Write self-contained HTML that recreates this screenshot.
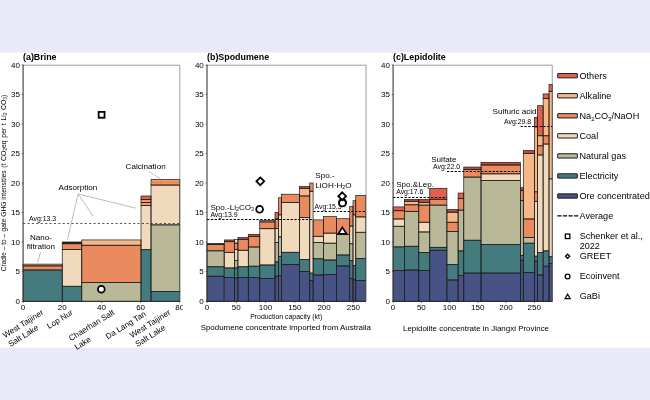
<!DOCTYPE html>
<html lang="en">
<head>
<meta charset="utf-8">
<title>GHG intensities of lithium production</title>
<style>
html,body{margin:0;padding:0;background:#e8eafa;}
body{width:650px;height:400px;overflow:hidden;}
svg{display:block;font-family:"Liberation Sans",Arial,sans-serif;}
text{fill:#000;}
.chart{filter:blur(0.3px);}
.o{fill:none;stroke:#1c1c1c;stroke-width:0.7;}
.th{fill:none;stroke:#5a5a5a;stroke-width:0.6;}
.ax{fill:none;stroke:#3a3a3a;stroke-width:1.1;}
.bx{fill:none;stroke:#222;stroke-width:0.9;}
.tk{fill:none;stroke:#333;stroke-width:0.7;}
.d{fill:none;stroke:#000;stroke-width:1.1;stroke-dasharray:2.3 1.5;}
.da{fill:none;stroke:#2a2a2a;stroke-width:0.8;stroke-dasharray:2.1 2.3;}
.d2{fill:none;stroke:#000;stroke-width:1.25;stroke-dasharray:4.2 1.4;}
.ld{fill:none;stroke:#777;stroke-width:0.5;}
.m{fill:#fff;stroke:#000;}
.sw{stroke:#1c1c22;stroke-width:1;}
.t{font-size:8px;}
.b{font-size:8.9px;font-weight:bold;}
.l{font-size:8.1px;}
.s{font-size:6.9px;}
.u{font-size:7.95px;}
.r{font-size:8.1px;}
.g{font-size:9.1px;}
.yl{font-size:6.9px;}
.sub{font-size:4.6px;}
.sub2{font-size:5.2px;}
.sub3{font-size:6px;}
</style>
</head>
<body>
<svg width="650" height="400" viewBox="0 0 650 400">
<rect x="0" y="0" width="650" height="400" fill="#e8eafa"/>
<rect x="0" y="52.5" width="650" height="295.2" fill="#ffffff"/>
<g class="chart">
<rect x="23.10" y="270.02" width="39.15" height="31.28" fill="#447b7f"/>
<rect x="23.10" y="265.89" width="39.15" height="4.13" fill="#ea8a5f"/>
<rect x="23.10" y="264.12" width="39.15" height="1.77" fill="#f29a68"/>
<rect x="62.25" y="286.25" width="19.50" height="15.05" fill="#447b7f"/>
<rect x="62.25" y="249.38" width="19.50" height="36.88" fill="#f1dabb"/>
<rect x="62.25" y="243.77" width="19.50" height="5.60" fill="#ea8a5f"/>
<rect x="62.25" y="242.00" width="19.50" height="1.77" fill="#1a1a1a"/>
<rect x="81.75" y="282.42" width="59.25" height="18.88" fill="#b9b999"/>
<rect x="81.75" y="245.25" width="59.25" height="37.17" fill="#ea8a5f"/>
<rect x="81.75" y="239.94" width="59.25" height="5.31" fill="#f7b888"/>
<rect x="141.00" y="249.67" width="10.00" height="51.63" fill="#447b7f"/>
<rect x="141.00" y="205.42" width="10.00" height="44.25" fill="#f1dabb"/>
<rect x="141.00" y="202.47" width="10.00" height="2.95" fill="#f29a68"/>
<rect x="141.00" y="199.52" width="10.00" height="2.95" fill="#f29a68"/>
<rect x="141.00" y="195.98" width="10.00" height="3.54" fill="#e0604e"/>
<rect x="151.00" y="291.56" width="28.80" height="9.74" fill="#447b7f"/>
<rect x="151.00" y="224.89" width="28.80" height="66.67" fill="#b9b999"/>
<rect x="151.00" y="185.06" width="28.80" height="39.82" fill="#f1dabb"/>
<rect x="151.00" y="179.46" width="28.80" height="5.61" fill="#f5945f"/>
<rect class="o" x="23.10" y="270.02" width="39.15" height="31.28"/>
<rect class="o" x="23.10" y="265.89" width="39.15" height="4.13"/>
<rect class="o" x="23.10" y="264.12" width="39.15" height="1.77"/>
<rect class="o" x="62.25" y="286.25" width="19.50" height="15.05"/>
<rect class="o" x="62.25" y="249.38" width="19.50" height="36.88"/>
<rect class="o" x="62.25" y="243.77" width="19.50" height="5.60"/>
<rect class="o" x="62.25" y="242.00" width="19.50" height="1.77"/>
<rect class="o" x="81.75" y="282.42" width="59.25" height="18.88"/>
<rect class="o" x="81.75" y="245.25" width="59.25" height="37.17"/>
<rect class="o" x="81.75" y="239.94" width="59.25" height="5.31"/>
<rect class="o" x="141.00" y="249.67" width="10.00" height="51.63"/>
<rect class="o" x="141.00" y="205.42" width="10.00" height="44.25"/>
<rect class="o" x="141.00" y="202.47" width="10.00" height="2.95"/>
<rect class="o" x="141.00" y="199.52" width="10.00" height="2.95"/>
<rect class="o" x="141.00" y="195.98" width="10.00" height="3.54"/>
<rect class="o" x="151.00" y="291.56" width="28.80" height="9.74"/>
<rect class="o" x="151.00" y="224.89" width="28.80" height="66.67"/>
<rect class="o" x="151.00" y="185.06" width="28.80" height="39.82"/>
<rect class="o" x="151.00" y="179.46" width="28.80" height="5.61"/>
<path d="M151.3 182.6 H179.5" stroke="#d8703f" stroke-width="0.5" fill="none"/>
<path class="th" d="M23.10 65.2 H179.80 V301.3"/>
<path class="ax" d="M23.10 64.8 V301.8"/>
<path class="bx" d="M23.10 301.3 H179.80"/>
<path class="tk" d="M21.80 301.30 H23.10"/>
<text class="t" x="19.90" y="304.10" text-anchor="end">0</text>
<path class="tk" d="M21.80 271.50 H23.10"/>
<text class="t" x="19.90" y="274.30" text-anchor="end">5</text>
<path class="tk" d="M21.80 242.00 H23.10"/>
<text class="t" x="19.90" y="244.80" text-anchor="end">10</text>
<path class="tk" d="M21.80 212.50 H23.10"/>
<text class="t" x="19.90" y="215.30" text-anchor="end">15</text>
<path class="tk" d="M21.80 183.00 H23.10"/>
<text class="t" x="19.90" y="185.80" text-anchor="end">20</text>
<path class="tk" d="M21.80 153.50 H23.10"/>
<text class="t" x="19.90" y="156.30" text-anchor="end">25</text>
<path class="tk" d="M21.80 124.00 H23.10"/>
<text class="t" x="19.90" y="126.80" text-anchor="end">30</text>
<path class="tk" d="M21.80 94.50 H23.10"/>
<text class="t" x="19.90" y="97.30" text-anchor="end">35</text>
<path class="tk" d="M21.80 65.00 H23.10"/>
<text class="t" x="19.90" y="67.80" text-anchor="end">40</text>
<path class="tk" d="M23.10 301.3 V302.90000000000003"/>
<text class="t" x="23.10" y="310.40" text-anchor="middle">0</text>
<path class="tk" d="M62.27 301.3 V302.90000000000003"/>
<text class="t" x="62.27" y="310.40" text-anchor="middle">20</text>
<path class="tk" d="M101.45 301.3 V302.90000000000003"/>
<text class="t" x="101.45" y="310.40" text-anchor="middle">40</text>
<path class="tk" d="M140.62 301.3 V302.90000000000003"/>
<text class="t" x="140.62" y="310.40" text-anchor="middle">60</text>
<path class="tk" d="M179.80 301.3 V302.90000000000003"/>
<text class="t" x="179.80" y="310.40" text-anchor="middle">80</text>
<path class="da" d="M23.10 223.50 H179.80"/>
<text class="b" x="23" y="59.8">(a)Brine</text>
<text class="l" x="58.5" y="190">Adsorption</text>
<text class="l" x="125.6" y="169.4">Calcination</text>
<text class="l" x="40.9" y="239.9" text-anchor="middle">Nano-</text>
<text class="l" x="40.9" y="249.2" text-anchor="middle">filtration</text>
<text class="s" x="29" y="220.7">Avg:13.3</text>
<path class="ld" d="M78.1 194 L67.5 239.5 M78.1 194 L93.1 216 M78.1 194 L135.6 208.1 M148.7 171.3 L160.6 178.8 M40.6 251.9 L37.5 262.5"/>
<rect class="m" x="98.67" y="111.88" width="5.85" height="5.85" stroke-width="1.8"/>
<circle class="m" cx="101.30" cy="289.30" r="3.4" stroke-width="1.8"/>
<rect x="182.8" y="302.5" width="8" height="10" fill="#ffffff"/>
<g transform="translate(41.0 309) rotate(-32)">
<text class="r" x="-46.06" y="5.7">West Taijiner</text>
<text class="r" x="-46.06" y="16.1">Salt Lake</text>
</g>
<g transform="translate(70.5 309) rotate(-32)">
<text class="r" x="-28.81" y="5.7">Lop Nur</text>
</g>
<g transform="translate(112.0 309) rotate(-32)">
<text class="r" x="-51.78" y="5.7">Chaerhan Salt</text>
<text class="r" x="-51.78" y="16.1">Lake</text>
</g>
<g transform="translate(143.6 310.4) rotate(-32)">
<text class="r" x="-45.78" y="5.7">Da Lang Tan</text>
</g>
<g transform="translate(168.0 309) rotate(-32)">
<text class="r" x="-46.06" y="5.7">West Taijiner</text>
<text class="r" x="-46.06" y="16.1">Salt Lake</text>
</g>
<text class="yl" style="font-size:6.52px" transform="translate(6.0 271.2) rotate(-90)">Cradle – to –</text>
<text class="yl" style="font-size:6.64px" transform="translate(6.0 231.5) rotate(-90)">gate GHG intensities</text>
<text class="yl" style="word-spacing:0.75px" transform="translate(6.0 167.8) rotate(-90)">(t CO<tspan class="sub" dy="1.2">2</tspan><tspan dy="-1.2">eq per t Li</tspan><tspan class="sub" dy="1.2">2</tspan><tspan dy="-1.2"> CO</tspan><tspan class="sub" dy="1.2">3</tspan><tspan dy="-1.2">)</tspan></text>
<rect x="207.00" y="276.22" width="17.00" height="25.08" fill="#475384"/>
<rect x="207.00" y="266.78" width="17.00" height="9.44" fill="#447b7f"/>
<rect x="207.00" y="250.85" width="17.00" height="15.93" fill="#b9b999"/>
<rect x="207.00" y="244.36" width="17.00" height="6.49" fill="#ea8a5f"/>
<rect x="207.00" y="243.47" width="17.00" height="0.89" fill="#1a1a1a"/>
<rect x="224.60" y="277.40" width="9.80" height="23.90" fill="#475384"/>
<rect x="224.60" y="267.96" width="9.80" height="9.44" fill="#447b7f"/>
<rect x="224.60" y="252.32" width="9.80" height="15.63" fill="#f1dabb"/>
<rect x="224.60" y="241.70" width="9.80" height="10.62" fill="#ea8a5f"/>
<rect x="224.60" y="239.94" width="9.80" height="1.77" fill="#bf4a3c"/>
<rect x="234.40" y="277.99" width="3.50" height="23.31" fill="#475384"/>
<rect x="234.40" y="267.96" width="3.50" height="10.03" fill="#447b7f"/>
<rect x="234.40" y="260.58" width="3.50" height="7.38" fill="#b9b999"/>
<rect x="234.40" y="249.38" width="3.50" height="11.21" fill="#f1dabb"/>
<rect x="234.40" y="243.18" width="3.50" height="6.19" fill="#ea8a5f"/>
<rect x="234.40" y="239.64" width="3.50" height="3.54" fill="#f1dabb"/>
<rect x="237.90" y="277.40" width="10.40" height="23.90" fill="#475384"/>
<rect x="237.90" y="266.78" width="10.40" height="10.62" fill="#447b7f"/>
<rect x="237.90" y="250.26" width="10.40" height="16.52" fill="#f1dabb"/>
<rect x="237.90" y="239.34" width="10.40" height="10.91" fill="#ea8a5f"/>
<rect x="237.90" y="237.57" width="10.40" height="1.77" fill="#bf4a3c"/>
<rect x="248.30" y="277.40" width="11.45" height="23.90" fill="#475384"/>
<rect x="248.30" y="266.19" width="11.45" height="11.21" fill="#447b7f"/>
<rect x="248.30" y="247.01" width="11.45" height="19.18" fill="#b9b999"/>
<rect x="248.30" y="236.39" width="11.45" height="10.62" fill="#ea8a5f"/>
<rect x="248.30" y="234.33" width="11.45" height="2.06" fill="#bf4a3c"/>
<rect x="259.75" y="278.58" width="15.25" height="22.72" fill="#475384"/>
<rect x="259.75" y="265.01" width="15.25" height="13.57" fill="#447b7f"/>
<rect x="259.75" y="228.72" width="15.25" height="36.28" fill="#f1dabb"/>
<rect x="259.75" y="221.94" width="15.25" height="6.78" fill="#ea8a5f"/>
<rect x="259.75" y="220.46" width="15.25" height="1.48" fill="#f7b888"/>
<rect x="275.00" y="276.22" width="3.50" height="25.08" fill="#475384"/>
<rect x="275.00" y="261.88" width="3.50" height="14.34" fill="#447b7f"/>
<rect x="275.00" y="242.59" width="3.50" height="19.29" fill="#b9b999"/>
<rect x="275.00" y="228.43" width="3.50" height="14.16" fill="#f1dabb"/>
<rect x="275.00" y="218.99" width="3.50" height="9.44" fill="#ea8a5f"/>
<rect x="275.00" y="212.50" width="3.50" height="6.49" fill="#e0604e"/>
<rect x="278.50" y="275.63" width="3.00" height="25.67" fill="#475384"/>
<rect x="278.50" y="256.28" width="3.00" height="19.35" fill="#447b7f"/>
<rect x="278.50" y="236.87" width="3.00" height="19.41" fill="#b9b999"/>
<rect x="278.50" y="214.86" width="3.00" height="22.01" fill="#f1dabb"/>
<rect x="278.50" y="197.75" width="3.00" height="17.11" fill="#ea8a5f"/>
<rect x="281.50" y="264.42" width="17.90" height="36.88" fill="#475384"/>
<rect x="281.50" y="252.27" width="17.90" height="12.15" fill="#447b7f"/>
<rect x="281.50" y="202.47" width="17.90" height="49.80" fill="#f1dabb"/>
<rect x="281.50" y="194.21" width="17.90" height="8.26" fill="#ea8a5f"/>
<rect x="299.40" y="271.50" width="10.35" height="29.80" fill="#475384"/>
<rect x="299.40" y="259.40" width="10.35" height="12.10" fill="#447b7f"/>
<rect x="299.40" y="217.51" width="10.35" height="41.89" fill="#f1dabb"/>
<rect x="299.40" y="195.98" width="10.35" height="21.53" fill="#ea8a5f"/>
<rect x="299.40" y="188.31" width="10.35" height="7.67" fill="#f7b888"/>
<rect x="299.40" y="186.54" width="10.35" height="1.77" fill="#bf4a3c"/>
<rect x="309.75" y="280.35" width="3.35" height="20.95" fill="#475384"/>
<rect x="309.75" y="273.09" width="3.35" height="7.26" fill="#447b7f"/>
<rect x="309.75" y="191.26" width="3.35" height="81.83" fill="#f1dabb"/>
<rect x="309.75" y="183.00" width="3.35" height="8.26" fill="#ea8a5f"/>
<rect x="313.10" y="275.04" width="10.40" height="26.26" fill="#475384"/>
<rect x="313.10" y="258.76" width="10.40" height="16.28" fill="#447b7f"/>
<rect x="313.10" y="242.59" width="10.40" height="16.17" fill="#b9b999"/>
<rect x="313.10" y="236.28" width="10.40" height="6.31" fill="#f1dabb"/>
<rect x="313.10" y="219.88" width="10.40" height="16.40" fill="#ea8a5f"/>
<rect x="323.50" y="274.45" width="13.00" height="26.85" fill="#475384"/>
<rect x="323.50" y="260.00" width="13.00" height="14.45" fill="#447b7f"/>
<rect x="323.50" y="243.18" width="13.00" height="16.81" fill="#b9b999"/>
<rect x="323.50" y="233.15" width="13.00" height="10.03" fill="#f1dabb"/>
<rect x="323.50" y="216.63" width="13.00" height="16.52" fill="#ea8a5f"/>
<rect x="336.50" y="266.01" width="12.90" height="35.29" fill="#475384"/>
<rect x="336.50" y="254.98" width="12.90" height="11.03" fill="#447b7f"/>
<rect x="336.50" y="234.33" width="12.90" height="20.65" fill="#b9b999"/>
<rect x="336.50" y="218.69" width="12.90" height="15.63" fill="#ea8a5f"/>
<rect x="349.75" y="278.58" width="3.25" height="22.72" fill="#475384"/>
<rect x="349.75" y="260.58" width="3.25" height="18.00" fill="#447b7f"/>
<rect x="349.75" y="243.77" width="3.25" height="16.81" fill="#b9b999"/>
<rect x="349.75" y="226.07" width="3.25" height="17.70" fill="#f1dabb"/>
<rect x="349.75" y="206.31" width="3.25" height="19.76" fill="#ea8a5f"/>
<rect x="353.00" y="279.76" width="2.75" height="21.54" fill="#475384"/>
<rect x="353.00" y="265.60" width="2.75" height="14.16" fill="#447b7f"/>
<rect x="353.00" y="214.86" width="2.75" height="50.74" fill="#f1dabb"/>
<rect x="353.00" y="200.70" width="2.75" height="14.16" fill="#ea8a5f"/>
<rect x="355.75" y="280.64" width="10.00" height="20.66" fill="#475384"/>
<rect x="355.75" y="258.52" width="10.00" height="22.12" fill="#447b7f"/>
<rect x="355.75" y="232.26" width="10.00" height="26.25" fill="#b9b999"/>
<rect x="355.75" y="216.93" width="10.00" height="15.34" fill="#f1dabb"/>
<rect x="355.75" y="195.39" width="10.00" height="21.54" fill="#ea8a5f"/>
<rect class="o" x="207.00" y="276.22" width="17.00" height="25.08"/>
<rect class="o" x="207.00" y="266.78" width="17.00" height="9.44"/>
<rect class="o" x="207.00" y="250.85" width="17.00" height="15.93"/>
<rect class="o" x="207.00" y="244.36" width="17.00" height="6.49"/>
<rect class="o" x="207.00" y="243.47" width="17.00" height="0.89"/>
<rect class="o" x="224.60" y="277.40" width="9.80" height="23.90"/>
<rect class="o" x="224.60" y="267.96" width="9.80" height="9.44"/>
<rect class="o" x="224.60" y="252.32" width="9.80" height="15.63"/>
<rect class="o" x="224.60" y="241.70" width="9.80" height="10.62"/>
<rect class="o" x="224.60" y="239.94" width="9.80" height="1.77"/>
<rect class="o" x="234.40" y="277.99" width="3.50" height="23.31"/>
<rect class="o" x="234.40" y="267.96" width="3.50" height="10.03"/>
<rect class="o" x="234.40" y="260.58" width="3.50" height="7.38"/>
<rect class="o" x="234.40" y="249.38" width="3.50" height="11.21"/>
<rect class="o" x="234.40" y="243.18" width="3.50" height="6.19"/>
<rect class="o" x="234.40" y="239.64" width="3.50" height="3.54"/>
<rect class="o" x="237.90" y="277.40" width="10.40" height="23.90"/>
<rect class="o" x="237.90" y="266.78" width="10.40" height="10.62"/>
<rect class="o" x="237.90" y="250.26" width="10.40" height="16.52"/>
<rect class="o" x="237.90" y="239.34" width="10.40" height="10.91"/>
<rect class="o" x="237.90" y="237.57" width="10.40" height="1.77"/>
<rect class="o" x="248.30" y="277.40" width="11.45" height="23.90"/>
<rect class="o" x="248.30" y="266.19" width="11.45" height="11.21"/>
<rect class="o" x="248.30" y="247.01" width="11.45" height="19.18"/>
<rect class="o" x="248.30" y="236.39" width="11.45" height="10.62"/>
<rect class="o" x="248.30" y="234.33" width="11.45" height="2.06"/>
<rect class="o" x="259.75" y="278.58" width="15.25" height="22.72"/>
<rect class="o" x="259.75" y="265.01" width="15.25" height="13.57"/>
<rect class="o" x="259.75" y="228.72" width="15.25" height="36.28"/>
<rect class="o" x="259.75" y="221.94" width="15.25" height="6.78"/>
<rect class="o" x="259.75" y="220.46" width="15.25" height="1.48"/>
<rect class="o" x="275.00" y="276.22" width="3.50" height="25.08"/>
<rect class="o" x="275.00" y="261.88" width="3.50" height="14.34"/>
<rect class="o" x="275.00" y="242.59" width="3.50" height="19.29"/>
<rect class="o" x="275.00" y="228.43" width="3.50" height="14.16"/>
<rect class="o" x="275.00" y="218.99" width="3.50" height="9.44"/>
<rect class="o" x="275.00" y="212.50" width="3.50" height="6.49"/>
<rect class="o" x="278.50" y="275.63" width="3.00" height="25.67"/>
<rect class="o" x="278.50" y="256.28" width="3.00" height="19.35"/>
<rect class="o" x="278.50" y="236.87" width="3.00" height="19.41"/>
<rect class="o" x="278.50" y="214.86" width="3.00" height="22.01"/>
<rect class="o" x="278.50" y="197.75" width="3.00" height="17.11"/>
<rect class="o" x="281.50" y="264.42" width="17.90" height="36.88"/>
<rect class="o" x="281.50" y="252.27" width="17.90" height="12.15"/>
<rect class="o" x="281.50" y="202.47" width="17.90" height="49.80"/>
<rect class="o" x="281.50" y="194.21" width="17.90" height="8.26"/>
<rect class="o" x="299.40" y="271.50" width="10.35" height="29.80"/>
<rect class="o" x="299.40" y="259.40" width="10.35" height="12.10"/>
<rect class="o" x="299.40" y="217.51" width="10.35" height="41.89"/>
<rect class="o" x="299.40" y="195.98" width="10.35" height="21.53"/>
<rect class="o" x="299.40" y="188.31" width="10.35" height="7.67"/>
<rect class="o" x="299.40" y="186.54" width="10.35" height="1.77"/>
<rect class="o" x="309.75" y="280.35" width="3.35" height="20.95"/>
<rect class="o" x="309.75" y="273.09" width="3.35" height="7.26"/>
<rect class="o" x="309.75" y="191.26" width="3.35" height="81.83"/>
<rect class="o" x="309.75" y="183.00" width="3.35" height="8.26"/>
<rect class="o" x="313.10" y="275.04" width="10.40" height="26.26"/>
<rect class="o" x="313.10" y="258.76" width="10.40" height="16.28"/>
<rect class="o" x="313.10" y="242.59" width="10.40" height="16.17"/>
<rect class="o" x="313.10" y="236.28" width="10.40" height="6.31"/>
<rect class="o" x="313.10" y="219.88" width="10.40" height="16.40"/>
<rect class="o" x="323.50" y="274.45" width="13.00" height="26.85"/>
<rect class="o" x="323.50" y="260.00" width="13.00" height="14.45"/>
<rect class="o" x="323.50" y="243.18" width="13.00" height="16.81"/>
<rect class="o" x="323.50" y="233.15" width="13.00" height="10.03"/>
<rect class="o" x="323.50" y="216.63" width="13.00" height="16.52"/>
<rect class="o" x="336.50" y="266.01" width="12.90" height="35.29"/>
<rect class="o" x="336.50" y="254.98" width="12.90" height="11.03"/>
<rect class="o" x="336.50" y="234.33" width="12.90" height="20.65"/>
<rect class="o" x="336.50" y="218.69" width="12.90" height="15.63"/>
<rect class="o" x="349.75" y="278.58" width="3.25" height="22.72"/>
<rect class="o" x="349.75" y="260.58" width="3.25" height="18.00"/>
<rect class="o" x="349.75" y="243.77" width="3.25" height="16.81"/>
<rect class="o" x="349.75" y="226.07" width="3.25" height="17.70"/>
<rect class="o" x="349.75" y="206.31" width="3.25" height="19.76"/>
<rect class="o" x="353.00" y="279.76" width="2.75" height="21.54"/>
<rect class="o" x="353.00" y="265.60" width="2.75" height="14.16"/>
<rect class="o" x="353.00" y="214.86" width="2.75" height="50.74"/>
<rect class="o" x="353.00" y="200.70" width="2.75" height="14.16"/>
<rect class="o" x="355.75" y="280.64" width="10.00" height="20.66"/>
<rect class="o" x="355.75" y="258.52" width="10.00" height="22.12"/>
<rect class="o" x="355.75" y="232.26" width="10.00" height="26.25"/>
<rect class="o" x="355.75" y="216.93" width="10.00" height="15.34"/>
<rect class="o" x="355.75" y="195.39" width="10.00" height="21.54"/>
<path class="th" d="M207.00 65.2 H366.00 V301.3"/>
<path class="ax" d="M207.00 64.8 V301.8"/>
<path class="bx" d="M207.00 301.3 H366.00"/>
<path class="tk" d="M205.70 301.30 H207.00"/>
<text class="t" x="203.80" y="304.10" text-anchor="end">0</text>
<path class="tk" d="M205.70 271.50 H207.00"/>
<text class="t" x="203.80" y="274.30" text-anchor="end">5</text>
<path class="tk" d="M205.70 242.00 H207.00"/>
<text class="t" x="203.80" y="244.80" text-anchor="end">10</text>
<path class="tk" d="M205.70 212.50 H207.00"/>
<text class="t" x="203.80" y="215.30" text-anchor="end">15</text>
<path class="tk" d="M205.70 183.00 H207.00"/>
<text class="t" x="203.80" y="185.80" text-anchor="end">20</text>
<path class="tk" d="M205.70 153.50 H207.00"/>
<text class="t" x="203.80" y="156.30" text-anchor="end">25</text>
<path class="tk" d="M205.70 124.00 H207.00"/>
<text class="t" x="203.80" y="126.80" text-anchor="end">30</text>
<path class="tk" d="M205.70 94.50 H207.00"/>
<text class="t" x="203.80" y="97.30" text-anchor="end">35</text>
<path class="tk" d="M205.70 65.00 H207.00"/>
<text class="t" x="203.80" y="67.80" text-anchor="end">40</text>
<path class="tk" d="M207.00 301.3 V302.90000000000003"/>
<text class="t" x="207.00" y="310.40" text-anchor="middle">0</text>
<path class="tk" d="M236.28 301.3 V302.90000000000003"/>
<text class="t" x="236.28" y="310.40" text-anchor="middle">50</text>
<path class="tk" d="M265.55 301.3 V302.90000000000003"/>
<text class="t" x="265.55" y="310.40" text-anchor="middle">100</text>
<path class="tk" d="M294.82 301.3 V302.90000000000003"/>
<text class="t" x="294.82" y="310.40" text-anchor="middle">150</text>
<path class="tk" d="M324.10 301.3 V302.90000000000003"/>
<text class="t" x="324.10" y="310.40" text-anchor="middle">200</text>
<path class="tk" d="M353.38 301.3 V302.90000000000003"/>
<text class="t" x="353.38" y="310.40" text-anchor="middle">250</text>
<path class="d" d="M207.00 219.50 H313.50"/>
<path class="d" d="M313.30 211.50 H366.00"/>
<text class="b" x="207" y="59.8">(b)Spodumene</text>
<text class="l" x="210.4" y="209.7">Spo.-Li<tspan class="sub2" dy="1.5">2</tspan><tspan dy="-1.5">CO</tspan><tspan class="sub2" dy="1.5">3</tspan></text>
<text class="s" x="210.4" y="216.9">Avg:13.9</text>
<text class="l" x="315.3" y="177.5">Spo.-</text>
<text class="l" x="315.3" y="187.8">LiOH·H<tspan class="sub2" dy="1.5">2</tspan><tspan dy="-1.5">O</tspan></text>
<text class="s" x="314.5" y="209.2">Avg:15.3</text>
<path class="m" d="M260.30 177.40 L264.20 181.30 L260.30 185.20 L256.40 181.30 Z" stroke-width="1.8"/>
<circle class="m" cx="259.60" cy="209.30" r="3.4" stroke-width="1.8"/>
<circle class="m" cx="342.50" cy="202.20" r="3.4" stroke-width="1.8"/>
<circle class="m" cx="342.50" cy="202.90" r="3.4" stroke-width="1.8"/>
<path class="m" d="M342.20 192.30 L346.10 196.20 L342.20 200.10 L338.30 196.20 Z" stroke-width="1.8"/>
<path class="m" d="M342.40 227.38 L346.50 233.82 L338.30 233.82 Z" stroke-width="1.8"/>
<text class="s" x="286.2" y="318.6" text-anchor="middle">Production capacity (kt)</text>
<text class="u" x="285.8" y="330.2" text-anchor="middle">Spodumene concentrate imported from Australia</text>
<rect x="393.10" y="270.62" width="11.30" height="30.69" fill="#475384"/>
<rect x="393.10" y="246.90" width="11.30" height="23.72" fill="#447b7f"/>
<rect x="393.10" y="226.25" width="11.30" height="20.65" fill="#b9b999"/>
<rect x="393.10" y="218.99" width="11.30" height="7.26" fill="#f1dabb"/>
<rect x="393.10" y="210.73" width="11.30" height="8.26" fill="#ea8a5f"/>
<rect x="393.10" y="206.89" width="11.30" height="3.84" fill="#e0604e"/>
<rect x="404.40" y="270.02" width="14.35" height="31.28" fill="#475384"/>
<rect x="404.40" y="246.25" width="14.35" height="23.78" fill="#447b7f"/>
<rect x="404.40" y="211.32" width="14.35" height="34.93" fill="#b9b999"/>
<rect x="404.40" y="204.83" width="14.35" height="6.49" fill="#ea8a5f"/>
<rect x="404.40" y="201.29" width="14.35" height="3.54" fill="#f7b888"/>
<rect x="404.40" y="199.52" width="14.35" height="1.77" fill="#bf4a3c"/>
<rect x="418.75" y="270.62" width="11.00" height="30.69" fill="#475384"/>
<rect x="418.75" y="252.62" width="11.00" height="18.00" fill="#447b7f"/>
<rect x="418.75" y="231.97" width="11.00" height="20.65" fill="#b9b999"/>
<rect x="418.75" y="222.24" width="11.00" height="9.73" fill="#f1dabb"/>
<rect x="418.75" y="205.12" width="11.00" height="17.11" fill="#ea8a5f"/>
<rect x="418.75" y="202.47" width="11.00" height="2.66" fill="#f7b888"/>
<rect x="418.75" y="199.52" width="11.00" height="2.95" fill="#bf4a3c"/>
<rect x="429.75" y="250.26" width="17.15" height="51.04" fill="#475384"/>
<rect x="429.75" y="247.31" width="17.15" height="2.95" fill="#447b7f"/>
<rect x="429.75" y="205.12" width="17.15" height="42.19" fill="#b9b999"/>
<rect x="429.75" y="199.22" width="17.15" height="5.90" fill="#ea8a5f"/>
<rect x="429.75" y="188.31" width="17.15" height="10.91" fill="#e0604e"/>
<rect x="446.90" y="280.00" width="11.20" height="21.30" fill="#475384"/>
<rect x="446.90" y="264.42" width="11.20" height="15.58" fill="#447b7f"/>
<rect x="446.90" y="231.38" width="11.20" height="33.04" fill="#b9b999"/>
<rect x="446.90" y="222.24" width="11.20" height="9.14" fill="#ea8a5f"/>
<rect x="446.90" y="212.20" width="11.20" height="10.03" fill="#f7b888"/>
<rect x="446.90" y="209.55" width="11.20" height="2.65" fill="#bf4a3c"/>
<rect x="458.10" y="275.33" width="5.65" height="25.97" fill="#475384"/>
<rect x="458.10" y="250.85" width="5.65" height="24.48" fill="#447b7f"/>
<rect x="458.10" y="210.14" width="5.65" height="40.71" fill="#b9b999"/>
<rect x="458.10" y="198.34" width="5.65" height="11.80" fill="#ea8a5f"/>
<rect x="458.10" y="193.03" width="5.65" height="5.31" fill="#e0604e"/>
<rect x="463.75" y="273.09" width="17.25" height="28.21" fill="#475384"/>
<rect x="463.75" y="240.23" width="17.25" height="32.86" fill="#447b7f"/>
<rect x="463.75" y="177.10" width="17.25" height="63.13" fill="#b9b999"/>
<rect x="463.75" y="169.43" width="17.25" height="7.67" fill="#ea8a5f"/>
<rect x="463.75" y="167.07" width="17.25" height="2.36" fill="#bf4a3c"/>
<rect x="481.00" y="273.09" width="39.40" height="28.21" fill="#475384"/>
<rect x="481.00" y="244.36" width="39.40" height="28.73" fill="#447b7f"/>
<rect x="481.00" y="180.64" width="39.40" height="63.72" fill="#b9b999"/>
<rect x="481.00" y="173.85" width="39.40" height="6.78" fill="#f1dabb"/>
<rect x="481.00" y="165.00" width="39.40" height="8.85" fill="#ea8a5f"/>
<rect x="481.00" y="162.35" width="39.40" height="2.66" fill="#bf4a3c"/>
<rect x="520.40" y="260.29" width="2.90" height="41.01" fill="#475384"/>
<rect x="520.40" y="255.57" width="2.90" height="4.72" fill="#447b7f"/>
<rect x="520.40" y="200.70" width="2.90" height="54.87" fill="#b9b999"/>
<rect x="520.40" y="190.67" width="2.90" height="10.03" fill="#ea8a5f"/>
<rect x="520.40" y="187.72" width="2.90" height="2.95" fill="#bf4a3c"/>
<rect x="523.30" y="272.50" width="11.10" height="28.80" fill="#475384"/>
<rect x="523.30" y="243.18" width="11.10" height="29.32" fill="#447b7f"/>
<rect x="523.30" y="237.52" width="11.10" height="5.66" fill="#b9b999"/>
<rect x="523.30" y="218.99" width="11.10" height="18.53" fill="#ea8a5f"/>
<rect x="523.30" y="153.50" width="11.10" height="65.49" fill="#f7b888"/>
<rect x="523.30" y="150.55" width="11.10" height="2.95" fill="#bf4a3c"/>
<rect x="534.40" y="261.18" width="3.10" height="40.12" fill="#475384"/>
<rect x="534.40" y="256.16" width="3.10" height="5.02" fill="#447b7f"/>
<rect x="534.40" y="201.29" width="3.10" height="54.87" fill="#f1dabb"/>
<rect x="534.40" y="191.85" width="3.10" height="9.44" fill="#ea8a5f"/>
<rect x="534.40" y="126.95" width="3.10" height="64.90" fill="#f7b888"/>
<rect x="534.40" y="117.51" width="3.10" height="9.44" fill="#e0604e"/>
<rect x="537.50" y="275.04" width="5.60" height="26.26" fill="#475384"/>
<rect x="537.50" y="252.62" width="5.60" height="22.42" fill="#447b7f"/>
<rect x="537.50" y="154.97" width="5.60" height="97.65" fill="#f1dabb"/>
<rect x="537.50" y="145.83" width="5.60" height="9.15" fill="#ea8a5f"/>
<rect x="537.50" y="135.80" width="5.60" height="10.03" fill="#f7b888"/>
<rect x="537.50" y="105.71" width="5.60" height="30.09" fill="#e0604e"/>
<rect x="543.10" y="266.19" width="5.90" height="35.11" fill="#475384"/>
<rect x="543.10" y="250.85" width="5.90" height="15.34" fill="#447b7f"/>
<rect x="543.10" y="144.06" width="5.90" height="106.79" fill="#f1dabb"/>
<rect x="543.10" y="135.80" width="5.90" height="8.26" fill="#ea8a5f"/>
<rect x="543.10" y="98.63" width="5.90" height="37.17" fill="#f7b888"/>
<rect x="543.10" y="93.91" width="5.90" height="4.72" fill="#e0604e"/>
<rect x="549.00" y="263.48" width="3.25" height="37.82" fill="#475384"/>
<rect x="549.00" y="256.75" width="3.25" height="6.73" fill="#447b7f"/>
<rect x="549.00" y="178.87" width="3.25" height="77.88" fill="#f1dabb"/>
<rect x="549.00" y="91.55" width="3.25" height="87.32" fill="#f7b888"/>
<rect x="549.00" y="84.47" width="3.25" height="7.08" fill="#e0604e"/>
<rect class="o" x="393.10" y="270.62" width="11.30" height="30.69"/>
<rect class="o" x="393.10" y="246.90" width="11.30" height="23.72"/>
<rect class="o" x="393.10" y="226.25" width="11.30" height="20.65"/>
<rect class="o" x="393.10" y="218.99" width="11.30" height="7.26"/>
<rect class="o" x="393.10" y="210.73" width="11.30" height="8.26"/>
<rect class="o" x="393.10" y="206.89" width="11.30" height="3.84"/>
<rect class="o" x="404.40" y="270.02" width="14.35" height="31.28"/>
<rect class="o" x="404.40" y="246.25" width="14.35" height="23.78"/>
<rect class="o" x="404.40" y="211.32" width="14.35" height="34.93"/>
<rect class="o" x="404.40" y="204.83" width="14.35" height="6.49"/>
<rect class="o" x="404.40" y="201.29" width="14.35" height="3.54"/>
<rect class="o" x="404.40" y="199.52" width="14.35" height="1.77"/>
<rect class="o" x="418.75" y="270.62" width="11.00" height="30.69"/>
<rect class="o" x="418.75" y="252.62" width="11.00" height="18.00"/>
<rect class="o" x="418.75" y="231.97" width="11.00" height="20.65"/>
<rect class="o" x="418.75" y="222.24" width="11.00" height="9.73"/>
<rect class="o" x="418.75" y="205.12" width="11.00" height="17.11"/>
<rect class="o" x="418.75" y="202.47" width="11.00" height="2.66"/>
<rect class="o" x="418.75" y="199.52" width="11.00" height="2.95"/>
<rect class="o" x="429.75" y="250.26" width="17.15" height="51.04"/>
<rect class="o" x="429.75" y="247.31" width="17.15" height="2.95"/>
<rect class="o" x="429.75" y="205.12" width="17.15" height="42.19"/>
<rect class="o" x="429.75" y="199.22" width="17.15" height="5.90"/>
<rect class="o" x="429.75" y="188.31" width="17.15" height="10.91"/>
<rect class="o" x="446.90" y="280.00" width="11.20" height="21.30"/>
<rect class="o" x="446.90" y="264.42" width="11.20" height="15.58"/>
<rect class="o" x="446.90" y="231.38" width="11.20" height="33.04"/>
<rect class="o" x="446.90" y="222.24" width="11.20" height="9.14"/>
<rect class="o" x="446.90" y="212.20" width="11.20" height="10.03"/>
<rect class="o" x="446.90" y="209.55" width="11.20" height="2.65"/>
<rect class="o" x="458.10" y="275.33" width="5.65" height="25.97"/>
<rect class="o" x="458.10" y="250.85" width="5.65" height="24.48"/>
<rect class="o" x="458.10" y="210.14" width="5.65" height="40.71"/>
<rect class="o" x="458.10" y="198.34" width="5.65" height="11.80"/>
<rect class="o" x="458.10" y="193.03" width="5.65" height="5.31"/>
<rect class="o" x="463.75" y="273.09" width="17.25" height="28.21"/>
<rect class="o" x="463.75" y="240.23" width="17.25" height="32.86"/>
<rect class="o" x="463.75" y="177.10" width="17.25" height="63.13"/>
<rect class="o" x="463.75" y="169.43" width="17.25" height="7.67"/>
<rect class="o" x="463.75" y="167.07" width="17.25" height="2.36"/>
<rect class="o" x="481.00" y="273.09" width="39.40" height="28.21"/>
<rect class="o" x="481.00" y="244.36" width="39.40" height="28.73"/>
<rect class="o" x="481.00" y="180.64" width="39.40" height="63.72"/>
<rect class="o" x="481.00" y="173.85" width="39.40" height="6.78"/>
<rect class="o" x="481.00" y="165.00" width="39.40" height="8.85"/>
<rect class="o" x="481.00" y="162.35" width="39.40" height="2.66"/>
<rect class="o" x="520.40" y="260.29" width="2.90" height="41.01"/>
<rect class="o" x="520.40" y="255.57" width="2.90" height="4.72"/>
<rect class="o" x="520.40" y="200.70" width="2.90" height="54.87"/>
<rect class="o" x="520.40" y="190.67" width="2.90" height="10.03"/>
<rect class="o" x="520.40" y="187.72" width="2.90" height="2.95"/>
<rect class="o" x="523.30" y="272.50" width="11.10" height="28.80"/>
<rect class="o" x="523.30" y="243.18" width="11.10" height="29.32"/>
<rect class="o" x="523.30" y="237.52" width="11.10" height="5.66"/>
<rect class="o" x="523.30" y="218.99" width="11.10" height="18.53"/>
<rect class="o" x="523.30" y="153.50" width="11.10" height="65.49"/>
<rect class="o" x="523.30" y="150.55" width="11.10" height="2.95"/>
<rect class="o" x="534.40" y="261.18" width="3.10" height="40.12"/>
<rect class="o" x="534.40" y="256.16" width="3.10" height="5.02"/>
<rect class="o" x="534.40" y="201.29" width="3.10" height="54.87"/>
<rect class="o" x="534.40" y="191.85" width="3.10" height="9.44"/>
<rect class="o" x="534.40" y="126.95" width="3.10" height="64.90"/>
<rect class="o" x="534.40" y="117.51" width="3.10" height="9.44"/>
<rect class="o" x="537.50" y="275.04" width="5.60" height="26.26"/>
<rect class="o" x="537.50" y="252.62" width="5.60" height="22.42"/>
<rect class="o" x="537.50" y="154.97" width="5.60" height="97.65"/>
<rect class="o" x="537.50" y="145.83" width="5.60" height="9.15"/>
<rect class="o" x="537.50" y="135.80" width="5.60" height="10.03"/>
<rect class="o" x="537.50" y="105.71" width="5.60" height="30.09"/>
<rect class="o" x="543.10" y="266.19" width="5.90" height="35.11"/>
<rect class="o" x="543.10" y="250.85" width="5.90" height="15.34"/>
<rect class="o" x="543.10" y="144.06" width="5.90" height="106.79"/>
<rect class="o" x="543.10" y="135.80" width="5.90" height="8.26"/>
<rect class="o" x="543.10" y="98.63" width="5.90" height="37.17"/>
<rect class="o" x="543.10" y="93.91" width="5.90" height="4.72"/>
<rect class="o" x="549.00" y="263.48" width="3.25" height="37.82"/>
<rect class="o" x="549.00" y="256.75" width="3.25" height="6.73"/>
<rect class="o" x="549.00" y="178.87" width="3.25" height="77.88"/>
<rect class="o" x="549.00" y="91.55" width="3.25" height="87.32"/>
<rect class="o" x="549.00" y="84.47" width="3.25" height="7.08"/>
<path class="th" d="M393.10 65.2 H552.25 V301.3"/>
<path class="ax" d="M393.10 64.8 V301.8"/>
<path class="bx" d="M393.10 301.3 H552.25"/>
<path class="tk" d="M391.80 301.30 H393.10"/>
<text class="t" x="389.90" y="304.10" text-anchor="end">0</text>
<path class="tk" d="M391.80 271.50 H393.10"/>
<text class="t" x="389.90" y="274.30" text-anchor="end">5</text>
<path class="tk" d="M391.80 242.00 H393.10"/>
<text class="t" x="389.90" y="244.80" text-anchor="end">10</text>
<path class="tk" d="M391.80 212.50 H393.10"/>
<text class="t" x="389.90" y="215.30" text-anchor="end">15</text>
<path class="tk" d="M391.80 183.00 H393.10"/>
<text class="t" x="389.90" y="185.80" text-anchor="end">20</text>
<path class="tk" d="M391.80 153.50 H393.10"/>
<text class="t" x="389.90" y="156.30" text-anchor="end">25</text>
<path class="tk" d="M391.80 124.00 H393.10"/>
<text class="t" x="389.90" y="126.80" text-anchor="end">30</text>
<path class="tk" d="M391.80 94.50 H393.10"/>
<text class="t" x="389.90" y="97.30" text-anchor="end">35</text>
<path class="tk" d="M391.80 65.00 H393.10"/>
<text class="t" x="389.90" y="67.80" text-anchor="end">40</text>
<path class="tk" d="M393.10 301.3 V302.90000000000003"/>
<text class="t" x="393.10" y="310.40" text-anchor="middle">0</text>
<path class="tk" d="M421.33 301.3 V302.90000000000003"/>
<text class="t" x="421.33" y="310.40" text-anchor="middle">50</text>
<path class="tk" d="M449.55 301.3 V302.90000000000003"/>
<text class="t" x="449.55" y="310.40" text-anchor="middle">100</text>
<path class="tk" d="M477.78 301.3 V302.90000000000003"/>
<text class="t" x="477.78" y="310.40" text-anchor="middle">150</text>
<path class="tk" d="M506.00 301.3 V302.90000000000003"/>
<text class="t" x="506.00" y="310.40" text-anchor="middle">200</text>
<path class="tk" d="M534.23 301.3 V302.90000000000003"/>
<text class="t" x="534.23" y="310.40" text-anchor="middle">250</text>
<path class="d" d="M393.10 197.50 H446.90"/>
<path class="d" d="M446.90 171.50 H520.40"/>
<path class="d" d="M520.60 126.50 H552.25"/>
<text class="b" x="393" y="59.8">(c)Lepidolite</text>
<text class="l" x="396.2" y="186.6">Spo.&amp;Lep.</text>
<text class="s" x="396.2" y="194.4">Avg:17.6</text>
<text class="l" x="431.2" y="161.9">Sulfate</text>
<text class="s" x="433" y="169">Avg:22.0</text>
<text class="l" x="492.5" y="113.8">Sulfuric acid</text>
<text class="s" x="504" y="123.5">Avg:29.8</text>
<text class="u" x="476" y="330.8" text-anchor="middle">Lepidolite concentrate in Jiangxi Province</text>
<rect class="sw" x="557.7" y="73.55" width="19.7" height="4.3" rx="0.3" fill="#e0604e"/>
<text class="g" x="579.5" y="78.90">Others</text>
<rect class="sw" x="557.7" y="93.60" width="19.7" height="4.3" rx="0.3" fill="#f7b888"/>
<text class="g" x="579.5" y="98.95">Alkaline</text>
<rect class="sw" x="557.7" y="113.65" width="19.7" height="4.3" rx="0.3" fill="#ea8a5f"/>
<text class="g" x="579.5" y="119.00">Na<tspan class="sub3" dy="1.8">2</tspan><tspan dy="-1.8">CO</tspan><tspan class="sub3" dy="1.8">3</tspan><tspan dy="-1.8">/NaOH</tspan></text>
<rect class="sw" x="557.7" y="133.70" width="19.7" height="4.3" rx="0.3" fill="#f1dabb"/>
<text class="g" x="579.5" y="139.05">Coal</text>
<rect class="sw" x="557.7" y="153.75" width="19.7" height="4.3" rx="0.3" fill="#b9b999"/>
<text class="g" x="579.5" y="159.10">Natural gas</text>
<rect class="sw" x="557.7" y="173.80" width="19.7" height="4.3" rx="0.3" fill="#447b7f"/>
<text class="g" x="579.5" y="179.15">Electricity</text>
<rect class="sw" x="557.7" y="193.85" width="19.7" height="4.3" rx="0.3" fill="#475384"/>
<text class="g" x="579.5" y="199.20">Ore concentrated</text>
<path class="d2" d="M557.3 215.9 H578.3"/>
<text class="g" x="579.5" y="219.3">Average</text>
<rect class="m" x="565.35" y="234.05" width="4.5" height="4.5" stroke-width="1.3"/>
<text class="g" x="579.7" y="238.9">Schenker et al.,</text>
<text class="g" x="579.7" y="249.2">2022</text>
<path class="m" d="M567.60 254.20 L569.70 256.30 L567.60 258.40 L565.50 256.30 Z" stroke-width="1.3"/>
<text class="g" x="579.7" y="258.6">GREET</text>
<circle class="m" cx="567.60" cy="276.50" r="2.4" stroke-width="1.25"/>
<text class="g" x="579.7" y="278.7">Ecoinvent</text>
<path class="m" d="M567.60 294.30 L570.10 298.50 L565.10 298.50 Z" stroke-width="1.25"/>
<text class="g" x="579.7" y="298.8">GaBi</text>
</g>
</svg>
</body>
</html>
